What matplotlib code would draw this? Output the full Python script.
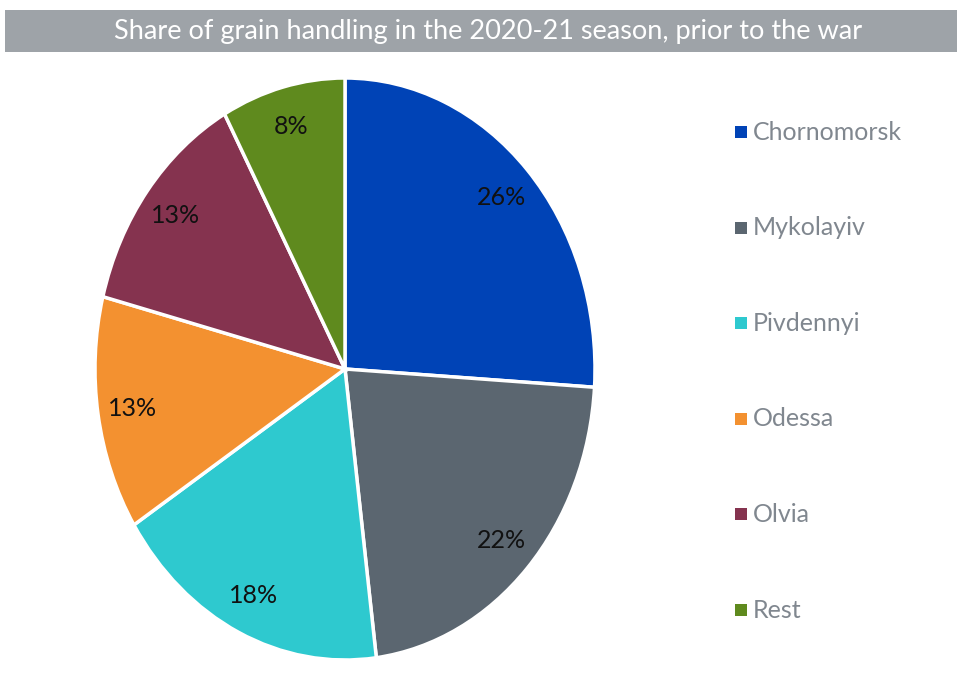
import matplotlib
matplotlib.use('Agg')
from matplotlib import pyplot as plt
from matplotlib.patches import Rectangle

ports = ['Chornomorsk', 'Mykolayiv', 'Pivdennyi', 'Odessa', 'Olvia', 'Rest']
shares = [26, 22, 18, 13, 13, 8]
colors = ['#0043b6', '#5b6670', '#2ec9cf', '#f39130', '#85334f', '#5f8a1e']
title = 'Share of grain handling in the 2020-21 season, prior to the war'

plt.rcParams['font.family'] = ['Lato', 'DejaVu Sans']

W, H = 957, 678
fig = plt.figure(figsize=(W / 100, H / 100), dpi=100)
fig.patch.set_facecolor('white')

# gray title band
fig.patches.append(Rectangle((5 / W, 1 - 52 / H), 1 - 5 / W, 42 / H,
                             transform=fig.transFigure, facecolor='#9ea3a8',
                             edgecolor='none', zorder=0))
fig.text(488 / W, 1 - 31 / H, title, color='white', fontsize=19.5,
         ha='center', va='center')

# pie is stretched vertically in the original
ax = fig.add_axes([95 / W, 1 - 660 / H, 500 / W, 582 / H])
wedges, texts, autotexts = ax.pie(
    shares, colors=colors, startangle=90, counterclock=False,
    autopct='%1.0f%%', pctdistance=0.86,
    wedgeprops=dict(edgecolor='white', linewidth=2.5),
    textprops=dict(fontsize=18, color='#111111'))
ax.set_aspect('auto')
ax.set_xlim(-1, 1)
ax.set_ylim(-1, 1)
ax.axis('off')

# the six rows sit about 96 px apart
y0 = 132
for i in range(len(ports)):
    y = y0 + i * 95.6
    fig.patches.append(Rectangle((735 / W, 1 - (y + 6) / H), 12 / W, 12 / H,
                                 transform=fig.transFigure, facecolor=colors[i],
                                 edgecolor='none'))
    fig.text(753 / W, 1 - y / H, ports[i], color='#80878f', fontsize=18,
             ha='left', va='center')

fig.savefig('out.png', dpi=100)
